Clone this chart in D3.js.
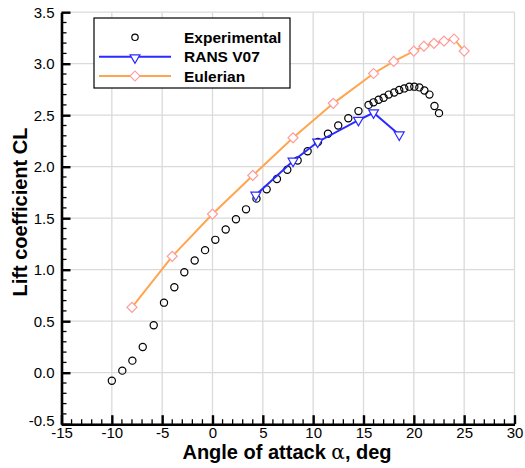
<!DOCTYPE html>
<html><head><meta charset="utf-8">
<script src="https://cdn.jsdelivr.net/npm/d3@7"></script>
<style>
body{margin:0;background:#fff;}
text{font-family:"Liberation Sans",Arial,Helvetica,sans-serif;}
</style></head>
<body><svg id="c" width="525" height="468"></svg>
<script>
// Experimental data
const expAlpha = [-10,-8.96,-7.96,-6.93,-5.84,-4.82,-3.79,-2.8,-1.77,-0.74,0.28,1.31,2.33,3.33,4.37,5.38,6.4,7.43,8.46,9.45,10.48,11.47,12.49,13.49,14.5,15.5,16,16.5,17,17.5,18.05,18.55,19.05,19.55,20.05,20.55,21.05,21.55,22.05,22.5];
const expCL    = [-0.078,0.02,0.117,0.25,0.46,0.68,0.83,0.975,1.09,1.19,1.29,1.39,1.49,1.586,1.69,1.78,1.88,1.97,2.06,2.15,2.24,2.32,2.40,2.47,2.54,2.60,2.625,2.65,2.67,2.70,2.72,2.745,2.76,2.777,2.777,2.77,2.74,2.70,2.59,2.52];
// RANS V07
const ransAlpha = [4.3,8,10.45,14.5,16,18.55];
const ransCL    = [1.725,2.055,2.24,2.452,2.524,2.31];
// Eulerian
const eulAlpha = [-8,-4,0,4,8,12,16,18,20,21,22,23,24,25];
const eulCL    = [0.635,1.13,1.54,1.915,2.28,2.615,2.905,3.022,3.123,3.17,3.198,3.22,3.24,3.123];
// Ticks
const xMajor = [-15,-10,-5,0,5,10,15,20,25,30];
const yMajor = [-0.5,0,0.5,1,1.5,2,2.5,3,3.5];
const legendLabels = ["Experimental","RANS V07","Eulerian"];

const svg = d3.select("#c");
const L=61.5,R=514.5,T=12.2,B=424.2;
const x = d3.scaleLinear().domain([-15,30]).range([L,R]);
const y = d3.scaleLinear().domain([-0.5,3.5]).range([B,T]);

// grid
const g = svg.append("g");
g.selectAll("line.gx").data(xMajor).enter().append("line")
 .attr("x1",d=>x(d)).attr("x2",d=>x(d)).attr("y1",T).attr("y2",B)
 .attr("stroke","#dadada").attr("stroke-width",1.3);
g.selectAll("line.gy").data(yMajor).enter().append("line")
 .attr("y1",d=>y(d)).attr("y2",d=>y(d)).attr("x1",L).attr("x2",R)
 .attr("stroke","#dadada").attr("stroke-width",1.3);

// axes minor ticks
const xMinor = d3.range(-15,30.01,1).filter(v=>v%5!==0);
const yMinor = d3.range(-5,36,1).filter(v=>v%5!==0).map(v=>v/10);
const ax = svg.append("g");
ax.selectAll("line.mx").data(xMinor).enter().append("line")
 .attr("x1",d=>x(d)).attr("x2",d=>x(d)).attr("y1",B).attr("y2",B-5)
 .attr("stroke","#000").attr("stroke-width",1.3);
ax.selectAll("line.my").data(yMinor).enter().append("line")
 .attr("y1",d=>y(d)).attr("y2",d=>y(d)).attr("x1",L).attr("x2",L+5)
 .attr("stroke","#000").attr("stroke-width",1.3);

const xAxis = d3.axisBottom(x).tickValues(xMajor).tickSize(-9).tickSizeOuter(0).tickPadding(4).tickFormat(d=>String(d));
const yAxis = d3.axisLeft(y).tickValues(yMajor).tickSize(-9).tickSizeOuter(0).tickPadding(7).tickFormat(d=>d.toFixed(1));
const gx = svg.append("g").attr("transform",`translate(0,${B})`).call(xAxis);
const gy = svg.append("g").attr("transform",`translate(${L},0)`).call(yAxis);
[gx,gy].forEach(a=>{
  a.select(".domain").attr("stroke","#000").attr("stroke-width",2.6);
  a.selectAll(".tick line").attr("stroke","#000").attr("stroke-width",2.4);
  a.selectAll(".tick text").attr("font-size",15).attr("fill","#000")
   .attr("font-family","'Liberation Sans',Arial,sans-serif");
});
gx.selectAll(".tick text").attr("dy","0.62em");
gy.selectAll(".tick text").filter(d=>d===-0.5).attr("dy","0.1em");

// series
const line = d3.line().x(d=>x(d[0])).y(d=>y(d[1]));
const exp = expAlpha.map((a,i)=>[a,expCL[i]]);
const rans = ransAlpha.map((a,i)=>[a,ransCL[i]]);
const eul = eulAlpha.map((a,i)=>[a,eulCL[i]]);

const blue="#2b2bff", orange="#ffa54f", pink="#ff9c9c";
svg.append("g").selectAll("circle").data(exp).enter().append("circle")
 .attr("cx",d=>x(d[0])).attr("cy",d=>y(d[1])).attr("r",3.6)
 .attr("fill","none").attr("stroke","#000").attr("stroke-width",1.2);

svg.append("path").datum(rans).attr("d",line).attr("fill","none").attr("stroke",blue).attr("stroke-width",2);
const tri = d3.symbol().type(d3.symbolTriangle).size(42)();
svg.append("g").selectAll("path").data(rans).enter().append("path")
 .attr("d",tri).attr("transform",d=>`translate(${x(d[0])},${y(d[1])}) rotate(180)`)
 .attr("fill","white").attr("stroke",blue).attr("stroke-width",1.2);

svg.append("path").datum(eul).attr("d",line).attr("fill","none").attr("stroke",orange).attr("stroke-width",2);
const dia = d3.symbol().type(d3.symbolSquare).size(50)();
svg.append("g").selectAll("path").data(eul).enter().append("path")
 .attr("d",dia).attr("transform",d=>`translate(${x(d[0])},${y(d[1])}) rotate(45)`)
 .attr("fill","white").attr("stroke",pink).attr("stroke-width",1.2);

// legend
const lg = svg.append("g");
lg.append("rect").attr("x",94).attr("y",18).attr("width",196).attr("height",70)
 .attr("fill","#fff").attr("stroke","#000").attr("stroke-width",1.2);
const rows=[37.3,56.7,76];
lg.append("circle").attr("cx",135).attr("cy",rows[0]).attr("r",3.2).attr("fill","none").attr("stroke","#000").attr("stroke-width",1.2);
lg.append("line").attr("x1",99).attr("x2",171).attr("y1",rows[1]).attr("y2",rows[1]).attr("stroke",blue).attr("stroke-width",2);
lg.append("path").attr("d",tri).attr("transform",`translate(135,${rows[1]+1}) rotate(180)`).attr("fill","white").attr("stroke",blue).attr("stroke-width",1.2);
lg.append("line").attr("x1",99).attr("x2",171).attr("y1",rows[2]).attr("y2",rows[2]).attr("stroke",orange).attr("stroke-width",2);
lg.append("path").attr("d",dia).attr("transform",`translate(135,${rows[2]}) rotate(45)`).attr("fill","white").attr("stroke",pink).attr("stroke-width",1.2);
lg.selectAll("text").data(legendLabels).enter().append("text")
 .attr("x",184).attr("y",(d,i)=>rows[i]+5.5).attr("font-size",15.5).attr("font-weight","bold").text(d=>d);

// axis titles
const xt = svg.append("text").attr("x",287).attr("y",459).attr("text-anchor","middle")
 .attr("font-size",20).attr("font-weight","bold");
xt.append("tspan").text("Angle of attack ");
xt.append("tspan").attr("font-weight","normal").attr("font-family","'DejaVu Serif',serif").text("α");
xt.append("tspan").text(", deg");
svg.append("text").attr("transform","translate(27,212) rotate(-90)").attr("text-anchor","middle")
 .attr("font-size",20).attr("font-weight","bold").text("Lift coefficient CL");
</script></body></html>
